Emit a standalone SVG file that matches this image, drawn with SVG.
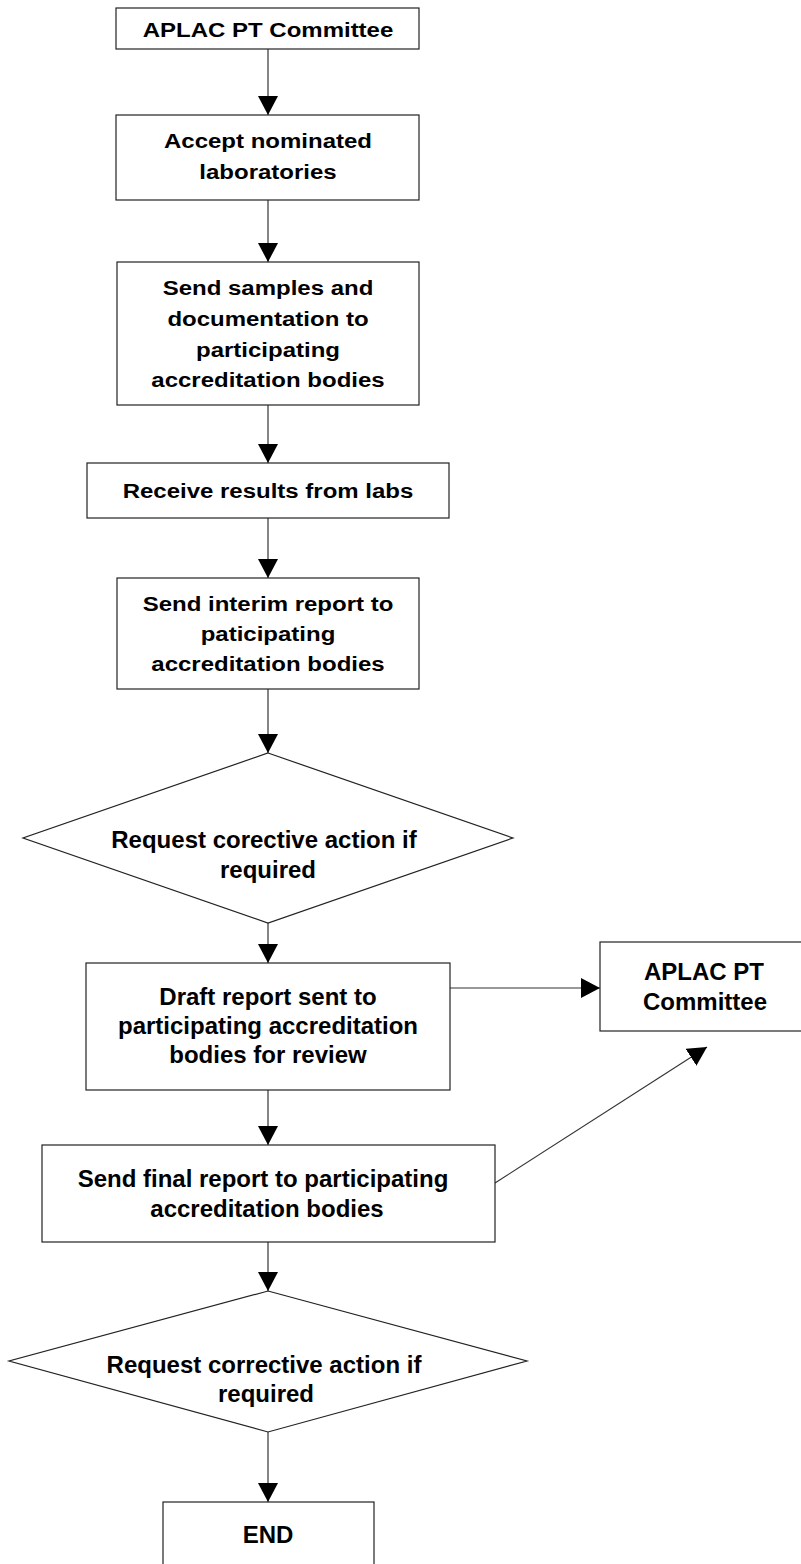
<svg xmlns="http://www.w3.org/2000/svg" width="801" height="1564" viewBox="0 0 801 1564">
<style>
  .box { fill: #ffffff; stroke: #222222; stroke-width: 1.2; }
  .conn { fill: none; stroke: #333333; stroke-width: 1.2; }
  .t { font-family: "Liberation Sans", Arial, sans-serif; font-weight: bold; font-size: 24px; fill: #000000; text-anchor: middle; }
</style>
<defs>
  <marker id="arr" markerUnits="userSpaceOnUse" markerWidth="20" markerHeight="20" refX="19" refY="10" orient="auto">
    <path d="M0,0 L19,10 L0,20 Z" fill="#000000"/>
  </marker>
</defs>
<rect x="0" y="0" width="801" height="1564" fill="#ffffff"/>

<g id="connectors">
  <line class="conn" x1="268" y1="49" x2="268" y2="115" marker-end="url(#arr)"/>
  <line class="conn" x1="268" y1="200" x2="268" y2="262" marker-end="url(#arr)"/>
  <line class="conn" x1="268" y1="405" x2="268" y2="463" marker-end="url(#arr)"/>
  <line class="conn" x1="268" y1="518" x2="268" y2="578" marker-end="url(#arr)"/>
  <line class="conn" x1="268" y1="689" x2="268" y2="753" marker-end="url(#arr)"/>
  <line class="conn" x1="268" y1="923" x2="268" y2="963" marker-end="url(#arr)"/>
  <line class="conn" x1="450" y1="988" x2="600" y2="988" marker-end="url(#arr)"/>
  <line class="conn" x1="268" y1="1090" x2="268" y2="1145" marker-end="url(#arr)"/>
  <line class="conn" x1="495" y1="1183" x2="707" y2="1047" marker-end="url(#arr)"/>
  <line class="conn" x1="268" y1="1242" x2="268" y2="1291" marker-end="url(#arr)"/>
  <line class="conn" x1="268" y1="1432" x2="268" y2="1502" marker-end="url(#arr)"/>
</g>

<g id="n1">
  <rect class="box" x="116" y="8" width="303" height="41"/>
  <text class="t" transform="matrix(1 0 0 0.84 268 37)">APLAC PT Committee</text>
</g>

<g id="n2">
  <rect class="box" x="116" y="115" width="303" height="85"/>
  <text class="t" transform="matrix(1 0 0 0.84 268 148)">Accept nominated</text>
  <text class="t" transform="matrix(1 0 0 0.84 268 179)">laboratories</text>
</g>

<g id="n3">
  <rect class="box" x="117" y="262" width="302" height="143"/>
  <text class="t" transform="matrix(1 0 0 0.84 268 295)">Send samples and</text>
  <text class="t" transform="matrix(1 0 0 0.84 268 326)">documentation to</text>
  <text class="t" transform="matrix(1 0 0 0.84 268 357)">participating</text>
  <text class="t" transform="matrix(1 0 0 0.84 268 387)">accreditation bodies</text>
</g>

<g id="n4">
  <rect class="box" x="87" y="463" width="362" height="55"/>
  <text class="t" transform="matrix(1 0 0 0.84 268 498)">Receive results from labs</text>
</g>

<g id="n5">
  <rect class="box" x="117" y="578" width="302" height="111"/>
  <text class="t" transform="matrix(1 0 0 0.84 268 611)">Send interim report to</text>
  <text class="t" transform="matrix(1 0 0 0.84 268 641)">paticipating</text>
  <text class="t" transform="matrix(1 0 0 0.84 268 671)">accreditation bodies</text>
</g>

<g id="n6">
  <polygon class="box" points="268,753 513,838 268,923 23,838"/>
  <text class="t" x="264" y="848">Request corective action if</text>
  <text class="t" x="268" y="878">required</text>
</g>

<g id="n7">
  <rect class="box" x="86" y="963" width="364" height="127"/>
  <text class="t" x="268" y="1005">Draft report sent to</text>
  <text class="t" x="268" y="1034">participating accreditation</text>
  <text class="t" x="268" y="1063">bodies for review</text>
</g>

<g id="n8">
  <rect class="box" x="600" y="942" width="210" height="89"/>
  <text class="t" x="704" y="980">APLAC PT</text>
  <text class="t" x="705" y="1010">Committee</text>
</g>

<g id="n9">
  <rect class="box" x="42" y="1145" width="453" height="97"/>
  <text class="t" x="263" y="1187">Send final report to participating</text>
  <text class="t" x="267" y="1217">accreditation bodies</text>
</g>

<g id="n10">
  <polygon class="box" points="268,1291 527,1361 268,1432 9,1361"/>
  <text class="t" x="264" y="1373">Request corrective action if</text>
  <text class="t" x="266" y="1402">required</text>
</g>

<g id="n11">
  <rect class="box" x="163" y="1502" width="211" height="70"/>
  <text class="t" x="268" y="1543">END</text>
</g>
</svg>
